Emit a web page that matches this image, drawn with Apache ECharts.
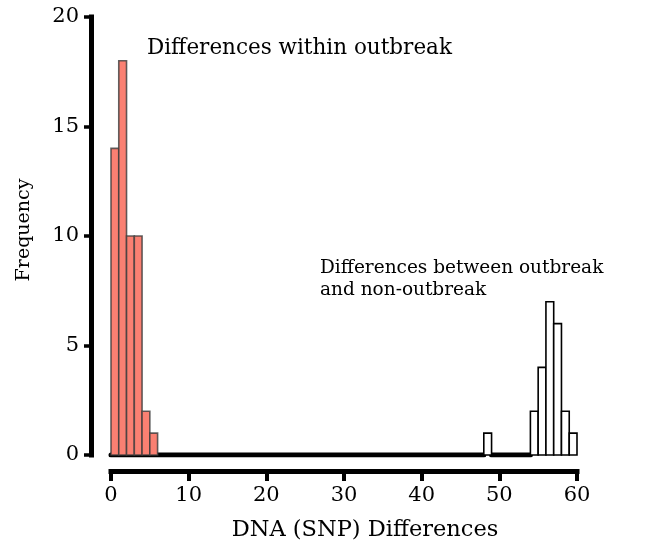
<!DOCTYPE html>
<html>
<head>
<meta charset="utf-8">
<script src="https://cdn.jsdelivr.net/npm/echarts@6/dist/echarts.min.js"></script>
<style>
  html, body { margin: 0; padding: 0; background: #fff; }
  #chart { width: 651px; height: 542px; }
</style>
</head>
<body>
<div id="chart"></div>
<script>
// histogram bins (bin start, width 1) and counts
const withinStarts = [0, 1, 2, 3, 4, 5];
const withinCounts = [14, 18, 10, 10, 2, 1];
const betweenStarts = [48, 54, 55, 56, 57, 58, 59];
const betweenCounts = [1, 2, 4, 7, 6, 2, 1];
// runs of empty bins drawn as a thick zero line
const zeroRuns = [[0, 48], [49, 54]];
const xTicks = [0, 10, 20, 30, 40, 50, 60];
const yTicks = [0, 5, 10, 15, 20];

const FONT = "DejaVu Serif";

function binData(starts, counts) {
  return starts.map((s, i) => [s, s + 1, counts[i]]);
}

function histItem(fill, stroke) {
  return function (params, api) {
    const p0 = api.coord([api.value(0), api.value(2)]);
    const p1 = api.coord([api.value(1), 0]);
    return {
      type: "rect",
      shape: {x: p0[0], y: p0[1], width: p1[0] - p0[0], height: p1[1] - p0[1]},
      style: {fill: fill, stroke: stroke, lineWidth: 1.6},
    };
  };
}

const zeroLine = [];
zeroRuns.forEach((r, i) => {
  if (i > 0) zeroLine.push(null);
  zeroLine.push([r[0], 0], [r[1], 0]);
});

const chart = echarts.init(document.getElementById("chart"));
chart.setOption({
  animation: false,
  grid: {left: 111, right: 74, top: 17, bottom: 87, outerBoundsMode: "none", containLabel: false},
  xAxis: {
    type: "value", min: 0, max: 60, interval: 10, offset: 16,
    name: "DNA (SNP) Differences", nameLocation: "middle", nameGap: 48,
    nameTextStyle: {fontFamily: FONT, fontSize: 22.5, color: "#000", padding: [0, 0, 0, 42]},
    axisLine: {onZero: false, lineStyle: {color: "#000", width: 5, cap: "square"}},
    axisTick: {length: 10, lineStyle: {color: "#000", width: 4}},
    axisLabel: {fontFamily: FONT, fontSize: 21, color: "#000", margin: 14,
      formatter: v => xTicks.includes(v) ? String(v) : ""},
    splitLine: {show: false},
  },
  yAxis: {
    type: "value", min: 0, max: 20, interval: 5, offset: 20,
    name: "Frequency", nameLocation: "middle", nameGap: 57,
    nameTextStyle: {fontFamily: FONT, fontSize: 19, color: "#000", padding: [0, 0, 0, 12]},
    axisLine: {show: true, onZero: false, lineStyle: {color: "#000", width: 5, cap: "square"}},
    axisTick: {show: true, length: 7, lineStyle: {color: "#000", width: 3.5}},
    axisLabel: {fontFamily: FONT, fontSize: 21, color: "#000", margin: 12,
      formatter: v => yTicks.includes(v) ? String(v) : ""},
    splitLine: {show: false},
  },
  series: [
    {
      type: "line", data: zeroLine, symbol: "none", connectNulls: false,
      lineStyle: {color: "#000", width: 5, cap: "round"}, z: 1,
    },
    {
      type: "custom", renderItem: histItem("#fa8072", "rgba(60,60,60,0.8)"),
      data: binData(withinStarts, withinCounts), encode: {x: [0, 1], y: 2}, z: 2,
    },
    {
      type: "custom", renderItem: histItem("#fff", "#000"),
      data: binData(betweenStarts, betweenCounts), encode: {x: [0, 1], y: 2}, z: 2,
    },
  ],
  graphic: [
    {type: "text", left: 147, top: 37,
      style: {text: "Differences within outbreak", font: "21.5px " + FONT, fill: "#000"}},
    {type: "text", left: 320, top: 257,
      style: {text: "Differences between outbreak\nand non-outbreak", font: "18.5px " + FONT,
        fill: "#000", lineHeight: 22}},
  ],
});
</script>
</body>
</html>
